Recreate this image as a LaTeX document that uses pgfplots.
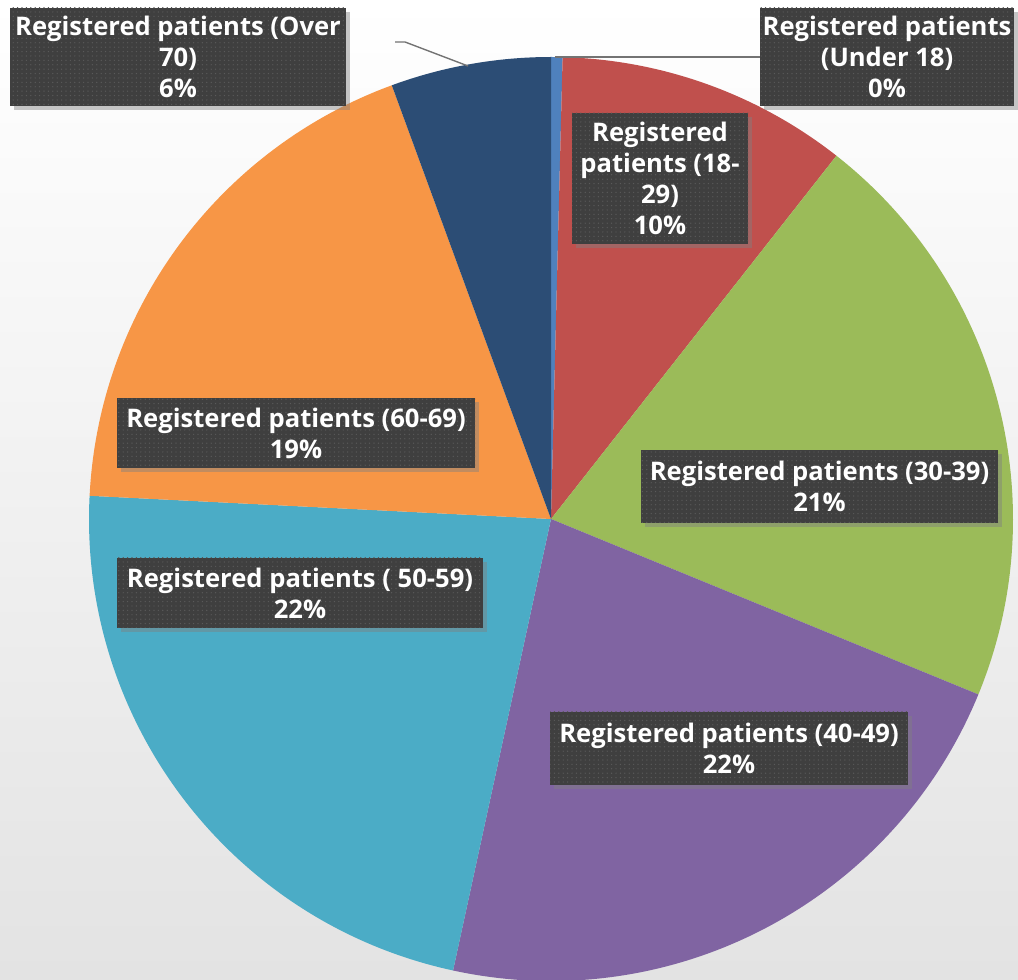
\documentclass[border=0pt]{standalone}
\usepackage{pgfplots}
\pgfplotsset{compat=1.18}
\usepackage{pgfplotstable}
\usepackage{fontspec}
\setmainfont{Open Sans}
\usetikzlibrary{patterns.meta,shadows}

\definecolor{cA}{HTML}{4F81BD}
\definecolor{cB}{HTML}{C0504D}
\definecolor{cC}{HTML}{9BBB59}
\definecolor{cD}{HTML}{8064A2}
\definecolor{cE}{HTML}{4BACC6}
\definecolor{cF}{HTML}{F79646}
\definecolor{cG}{HTML}{2C4D75}
\definecolor{boxdk}{HTML}{3F3F3F}
\definecolor{boxdot}{HTML}{5A5A5A}

% share of each age group (percent), clockwise from 12 o'clock
\pgfplotstableread{
group value color
U18 0.4 cA
A18 10.2 cB
A30 20.6 cC
A40 22.2 cD
A50 22.4 cE
A60 18.6 cF
O70 5.6 cG
}\piedata

\tikzset{
  lbl/.style={fill=boxdk, text=white, align=center,
    font=\bfseries\fontsize{12.8}{15.5}\selectfont,
    inner sep=0pt,
    drop shadow={shadow xshift=2pt, shadow yshift=-2pt, opacity=0.45},
    postaction={pattern={Dots[distance=2.2pt,radius=0.35pt]}, pattern color=boxdot}}
}

\begin{document}
\begin{tikzpicture}
\begin{axis}[
  scale only axis, width=509pt, height=490pt,
  xmin=0, xmax=1018, ymin=0, ymax=980,
  hide axis, clip=true]
  \fill[top color=white, bottom color=black!11] (rel axis cs:0,0) rectangle (rel axis cs:1,1);
  \pgfplotstablegetrowsof{\piedata}
  \pgfmathtruncatemacro{\N}{\pgfplotsretval-1}
  \def\cum{0}
  \pgfplotsforeachungrouped \i in {0,...,\N}{%
    \pgfplotstablegetelem{\i}{value}\of\piedata \let\v\pgfplotsretval
    \pgfplotstablegetelem{\i}{color}\of\piedata \let\c\pgfplotsretval
    \pgfmathsetmacro{\a}{90-3.6*\cum}%
    \pgfmathsetmacro{\b}{90-3.6*(\cum+\v)}%
    \edef\cmd{\noexpand\fill[\c] (axis cs:551,461) -- ++(\a:231pt) arc[start angle=\a, end angle=\b, radius=231pt] -- cycle;}%
    \cmd
    \pgfmathsetmacro{\cum}{\cum+\v}%
  }
  % leader lines
  \draw[black!55, line width=0.7pt] (axis cs:555,923) -- (axis cs:760,923);
  \draw[black!55, line width=0.7pt] (axis cs:395,938) -- (axis cs:405,938) -- (axis cs:468,914);
  % labels
  \node[lbl, minimum width=168pt, minimum height=49pt] at (axis cs:178,923) {Registered patients (Over\\70)\\6\%};
  \node[lbl, minimum width=127pt, minimum height=49pt] at (axis cs:887,923) {Registered patients\\(Under 18)\\0\%};
  \node[lbl, minimum width=88pt, minimum height=65.5pt] at (axis cs:660,801.5) {Registered\\patients (18-\\29)\\10\%};
  \node[lbl, minimum width=178.5pt, minimum height=36.5pt] at (axis cs:819.5,493.5) {Registered patients (30-39)\\21\%};
  \node[lbl, minimum width=179pt, minimum height=36.5pt] at (axis cs:729,231.5) {Registered patients (40-49)\\22\%};
  \node[lbl, minimum width=183pt, minimum height=35pt] at (axis cs:300,387) {Registered patients ( 50-59)\\22\%};
  \node[lbl, minimum width=179pt, minimum height=35pt] at (axis cs:296,547) {Registered patients (60-69)\\19\%};
\end{axis}
\end{tikzpicture}
\end{document}
